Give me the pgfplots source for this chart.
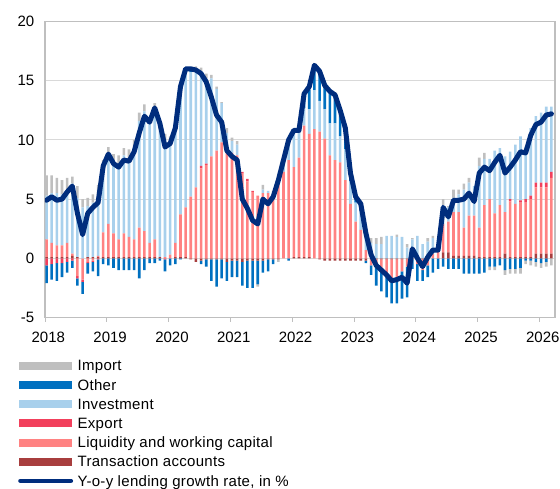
\documentclass[border=0pt]{standalone}
\usepackage{pgfplots}
\pgfplotsset{compat=1.18}
\usepackage{pgfplotstable}
\usepackage{fontspec}
\setmainfont{Liberation Sans}
\newfontfamily\legfont[LetterSpace=2]{Liberation Sans}
\definecolor{cTA}{RGB}{168,62,62}
\definecolor{cLWC}{RGB}{255,130,130}
\definecolor{cEXP}{RGB}{242,64,92}
\definecolor{cINV}{RGB}{168,208,236}
\definecolor{cOTH}{RGB}{0,112,192}
\definecolor{cIMP}{RGB}{191,191,191}
\definecolor{cLine}{RGB}{0,45,125}
\definecolor{gridc}{RGB}{217,217,217}
\definecolor{framec}{RGB}{191,191,191}

\pgfplotstableread{
i TA LWC EXP INV OTH IMP G
0 0.1 1.5 -0.6 3.7 -1.5 1.7 4.9
1 0.1 1.2 -0.5 4.2 -1.3 1.5 5.2
2 0.1 1.0 -0.4 4.4 -1.5 1.3 4.9
3 0.1 1.0 -0.4 4.3 -1.2 1.2 5.0
4 0.1 1.2 -0.3 4.4 -0.9 1.1 5.6
5 0.2 0.2 -0.2 5.9 -0.6 0.6 6.1
6 0.1 -1.5 -0.2 5.0 -0.6 1.0 3.8
7 0.0 -1.8 -0.2 4.3 -1.0 0.7 2.0
8 0.1 -0.3 -0.1 4.3 -0.9 0.7 3.8
9 0.1 -0.2 -0.1 4.6 -0.8 0.7 4.3
10 0.1 0.1 -0.1 4.7 -1.4 1.3 4.7
11 0.1 2.1 0.0 5.6 -0.5 0.5 7.8
12 0.1 2.8 0 5.7 -0.6 0.8 8.8
13 0.1 2.0 0 6.0 -0.8 0.7 8.0
14 0.1 1.5 0 6.4 -1.0 0.7 7.7
15 0.1 2.0 0 6.6 -1.0 0.6 8.3
16 0.1 1.7 0 6.7 -1.0 0.7 8.2
17 0.1 1.5 0 7.8 -1.0 0.6 9.0
18 0.1 2.5 0 9.0 -1.7 0.7 10.6
19 0.1 2.2 0 10.1 -1.0 0.6 12.0
20 0.1 1.2 0 10.3 -0.4 0.3 11.5
21 0.1 1.5 0 11.2 -0.4 0.3 12.7
22 0.1 0.0 0 11.2 -0.2 0.3 11.4
23 0.0 0.1 -0.1 9.9 -1.0 0.5 9.4
24 0.0 0.3 0 9.5 -0.6 0.5 9.7
25 0.1 1.2 0 9.8 -0.5 0.4 11.0
26 0.1 3.6 0 10.5 -0.1 0.4 14.5
27 0.1 4.2 0 11.4 0 0.3 16.0
28 -0.1 5.2 0 10.5 0.2 0.2 16.0
29 -0.3 6.0 0 9.9 0.1 0.2 15.9
30 -0.2 7.6 0.2 8.0 -0.3 0.3 15.6
31 -0.1 7.9 0.1 7.2 -0.6 0.4 14.9
32 -0.1 8.6 0 6.6 -1.8 0.3 13.6
33 -0.1 9.1 0 5.2 -2.3 0.2 12.1
34 -0.1 9.8 0 3.3 -1.6 0.1 11.5
35 -0.3 9.4 0 1.2 -1.6 0.4 9.1
36 -0.2 8.9 0 1.0 -1.4 0.3 8.6
37 -0.2 8.7 0 0.9 -1.4 0.3 8.3
38 -0.3 7.2 0.1 0.0 -2.0 0.0 5.0
39 -0.2 6.5 0.2 0.0 -2.3 0.0 4.2
40 -0.2 5.6 0.1 0.0 -2.3 0.0 3.2
41 -0.2 5.3 0.0 0.0 -2.0 -0.2 2.9
42 -0.2 5.5 0.0 0.3 -1.0 0.4 5.0
43 -0.1 5.5 0.0 0.2 -1.0 0.0 4.6
44 -0.1 5.3 0.0 0.3 -0.4 0.1 5.2
45 -0.1 6.3 0 0.6 0 -0.2 6.6
46 0.0 7.3 0 1.0 0.0 0.0 8.3
47 0.0 8.3 0 1.9 -0.2 0.0 10.0
48 0.1 7.6 0 2.8 0 0.3 10.8
49 0.1 8.4 0 2.1 0 0.2 10.8
50 0.1 11.1 0 1.5 1.0 0.2 13.9
51 0.1 10.4 0 2.1 1.6 0.3 14.5
52 0.0 10.9 0 3.3 1.8 0.3 16.3
53 -0.1 10.7 0 2.6 2.2 0.4 15.8
54 -0.2 10.1 0 2.5 1.9 0.3 14.6
55 -0.2 8.7 0 2.7 2.6 0.3 14.1
56 -0.2 8.3 0 3.1 2.3 0.3 13.8
57 -0.2 8.1 0 2.2 2.1 0.3 12.5
58 -0.2 6.6 0 2.6 1.7 0.3 11.0
59 -0.2 4.6 0 1.9 0.7 0.2 7.2
60 -0.2 3.1 0 1.6 0.4 0.3 5.2
61 -0.2 2.4 0 1.6 0.5 0.3 4.6
62 -0.2 0.7 0 1.6 -0.2 0.2 2.1
63 -0.1 -0.5 0 1.3 -0.8 0.4 0.3
64 -0.1 -0.6 0 1.2 -1.6 0.5 -0.6
65 -0.1 -0.9 0 1.2 -1.8 0.6 -1.0
66 -0.1 -1.2 0 1.9 -2.0 0.0 -1.4
67 -0.1 -1.7 0 1.9 -2.0 0.0 -1.9
68 -0.1 -1.5 0 1.8 -2.2 0.2 -1.8
69 -0.1 -1.0 0 1.8 -2.3 0.0 -1.6
70 -0.1 -0.6 0 0.9 -2.6 0.3 -2.1
71 -0.1 0.0 0 1.6 -0.8 0.1 0.8
72 -0.1 -0.4 0 1.9 -1.4 0.0 0.0
73 -0.1 -0.9 0 1.2 -0.9 0.0 -0.7
74 -0.1 -0.5 0 1.4 -1.0 0.3 0.1
75 0.0 0.4 0 1.3 -1.2 0.2 0.7
76 0.0 0.7 0 0.9 -0.9 0.0 0.7
77 0.5 2.4 0 1.6 -0.7 0.5 4.3
78 0.5 2.6 0 1.2 -0.9 0.1 3.5
79 0.2 3.7 0 1.2 -0.9 0.7 4.9
80 0.2 3.7 0 1.5 -0.9 0.4 4.9
81 0.2 2.4 0 3.2 -1.3 0.5 5.0
82 0.2 3.4 0 2.8 -1.3 0.4 5.5
83 0.2 3.4 0 2.5 -1.3 0.0 4.8
84 0.1 2.5 0 5.2 -1.3 0.7 7.2
85 0.1 4.4 0 3.9 -1.2 0.5 7.7
86 0.1 4.9 0 3.4 -0.7 -0.3 7.4
87 0.1 3.7 0 5.3 -0.7 -0.3 8.1
88 0.1 4.4 0 4.8 -0.6 0.0 8.7
89 0.4 3.5 0 4.7 -1.0 -0.4 7.2
90 0.1 4.7 0.2 4.0 -0.9 -0.4 7.7
91 0.1 4.5 0 5.0 -0.9 -0.4 8.3
92 0.1 4.6 0.2 5.4 -0.8 -0.5 9.0
93 0.1 4.6 0.3 4.4 -0.2 -0.3 8.9
94 0.1 4.9 0.3 5.7 -0.2 -0.4 10.4
95 0.4 5.6 0.4 5.6 -0.3 -0.4 11.3
96 0.4 5.6 0.4 5.9 -0.4 -0.4 11.5
97 0.4 5.6 0.4 6.4 -0.3 -0.4 12.1
98 0.4 6.4 0.5 5.5 0.0 -0.6 12.2
}\data

\pgfplotsset{
  base/.style={
    scale only axis, width=510bp, height=296bp,
    at={(0bp,0bp)}, anchor=south west,
    xmin=0, xmax=99, ymin=-5, ymax=20,
  },
  bars/.style={ybar stacked, bar width=0.5},
}
\newcommand{\negpart}[2]{\addplot[fill=#2, draw=none] table[x expr=\thisrow{i}+0.3, y expr={min(\thisrow{#1},0)}] {\data};}
\newcommand{\pospart}[2]{\addplot[fill=#2, draw=none] table[x expr=\thisrow{i}+0.3, y expr={max(\thisrow{#1},0)}] {\data};}

\begin{document}
\begin{tikzpicture}[font=\fontsize{15bp}{18bp}\selectfont]
\useasboundingbox (-45bp,-171.5bp) rectangle (515bp,317.5bp);
% negative parts, grid and axis frame
\begin{axis}[base, bars,
  ymajorgrids, grid style={draw=gridc, line width=1bp},
  axis line style={draw=framec, line width=1.2bp},
  ytick={-5,0,5,10,15,20},
  xtick={0,12,24,36,48,60,72,84,96},
  xticklabels={2018,2019,2020,2021,2022,2023,2024,2025,2026},
  xtick pos=bottom, ytick pos=left,
  tick align=outside, major tick length=4bp,
  xtick style={draw=framec, line width=1bp},
  ytick style={draw=none},
  /pgf/number format/assume math mode=true,
  tick label style={font=\fontsize{15bp}{18bp}\selectfont},
  xticklabel style={anchor=north, inner sep=0pt, xshift=3.3bp, yshift=-10bp},
  yticklabel style={anchor=east, inner sep=0pt, xshift=-6.5bp},
]
\negpart{TA}{cTA}
\negpart{LWC}{cLWC}
\negpart{EXP}{cEXP}
\negpart{INV}{cINV}
\negpart{OTH}{cOTH}
\negpart{IMP}{cIMP}
\end{axis}
% positive parts
\begin{axis}[base, bars, hide axis]
\pospart{TA}{cTA}
\pospart{LWC}{cLWC}
\pospart{EXP}{cEXP}
\pospart{INV}{cINV}
\pospart{OTH}{cOTH}
\pospart{IMP}{cIMP}
\end{axis}
% line and legend
\begin{axis}[base, hide axis,
  legend cell align=left,
  legend style={at={(axis description cs:-0.0529,-0.1426)}, anchor=north west,
    draw=none, fill=none, inner sep=0pt, row sep=4.7bp, column sep=4.5bp,
    font=\legfont\fontsize{15bp}{18bp}\selectfont,
    nodes={inner sep=0pt, text height=11bp, text depth=3.5bp}},
]
\addplot[draw=cLine, line width=5bp, line join=round, line cap=round, forget plot]
  table[x expr=\thisrow{i}+0.3, y=G] {\data};
\addlegendimage{legend image code/.code={\fill[cIMP] (0bp,-1.9bp) rectangle (52bp,5.1bp);}}
\addlegendentry{Import}
\addlegendimage{legend image code/.code={\fill[cOTH] (0bp,-1.9bp) rectangle (52bp,5.1bp);}}
\addlegendentry{Other}
\addlegendimage{legend image code/.code={\fill[cINV] (0bp,-1.9bp) rectangle (52bp,5.1bp);}}
\addlegendentry{Investment}
\addlegendimage{legend image code/.code={\fill[cEXP] (0bp,-1.9bp) rectangle (52bp,5.1bp);}}
\addlegendentry{Export}
\addlegendimage{legend image code/.code={\fill[cLWC] (0bp,-1.9bp) rectangle (52bp,5.1bp);}}
\addlegendentry{Liquidity and working capital}
\addlegendimage{legend image code/.code={\fill[cTA] (0bp,-1.9bp) rectangle (52bp,5.1bp);}}
\addlegendentry{Transaction accounts}
\addlegendimage{legend image code/.code={\draw[cLine, line width=4.5bp, line cap=round] (1bp,1.6bp) -- (51.4bp,1.6bp);}}
\addlegendentry{Y-o-y lending growth rate, in \%}
\end{axis}
\end{tikzpicture}
\end{document}
